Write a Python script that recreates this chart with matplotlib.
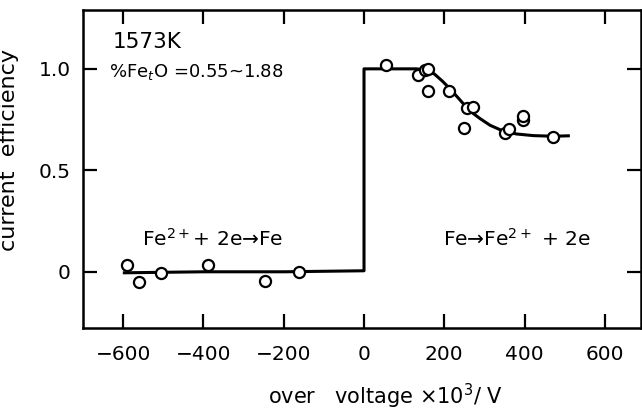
import numpy as np
import matplotlib.pyplot as plt

plt.rcParams['font.family'] = ['DejaVu Sans']

# puntos medidos (reduccion, lado catodico)
x_cat = [-591, -560, -506, -388, -247, -162]
y_cat = [0.034, -0.051, -0.006, 0.034, -0.043, 0.0]
# puntos medidos (oxidacion, lado anodico)
x_an = [55, 135, 152, 160, 160, 212, 249, 257, 271, 351, 362, 397, 397, 472]
y_an = [1.02, 0.97, 0.995, 1.0, 0.893, 0.893, 0.708, 0.806, 0.814, 0.686, 0.703, 0.748, 0.766, 0.663]
# curva dibujada a mano
x_curva = [-597, -400, -200, 0, 0, 130, 155, 175, 195, 215, 239, 262, 289, 314, 347, 380, 422, 470, 509]
y_curva = [-0.005, 0.0, 0.0, 0.005, 1.0, 1.0, 0.995, 0.975, 0.94, 0.9, 0.847, 0.795, 0.755, 0.722, 0.693, 0.679, 0.671, 0.668, 0.67]

xticks = [-600, -400, -200, 0, 200, 400, 600]
xticklabels = ['\u2212600', '\u2212400', '\u2212200', '0', '200', '400', '600']
yticks = [0, 0.5, 1.0]
yticklabels = ['0', '0.5', '1.0']

fig = plt.figure(figsize=(6.42, 4.11), dpi=100)
ax = fig.add_axes([83/642, 1 - 328/411, (641 - 83)/642, (328 - 10)/411])

ax.plot(x_curva, y_curva, color='black', lw=2.2, zorder=2)
ax.plot(x_cat, y_cat, 'o', mfc='white', mec='black', mew=1.6, ms=8, zorder=3)
ax.plot(x_an, y_an, 'o', mfc='white', mec='black', mew=1.6, ms=8, zorder=3)

ax.set_xlim(-700, 690)
ax.set_ylim(-0.277, 1.29)
ax.set_xticks(xticks)
ax.set_xticklabels(xticklabels)
ax.set_yticks(yticks)
ax.set_yticklabels(yticklabels)
ax.tick_params(direction='in', top=True, right=True, length=10, width=1.6, labelsize=14.5)
ax.tick_params(axis='x', pad=12)
ax.tick_params(axis='y', pad=9)
for s in ax.spines.values():
    s.set_linewidth(1.8)

ax.set_ylabel('current  efficiency', fontsize=16)
ax.yaxis.set_label_coords(-0.115, 0.56)
fig.text(386/642, 1 - 396/411, 'over   voltage \u00d710$^3$/ V', fontsize=15, ha='center', va='center')

ax.text(-627, 1.133, '1573K', fontsize=15.5, va='center')
ax.text(-634, 0.985, '%Fe$_t$O =0.55~1.88', fontsize=13, va='center')
ax.text(-552, 0.16, 'Fe$^{2+}$+ 2e\u2192Fe', fontsize=14.5, va='center')
ax.text(196, 0.16, 'Fe\u2192Fe$^{2+}$ + 2e', fontsize=14.5, va='center')

fig.savefig('out.png', dpi=100)
